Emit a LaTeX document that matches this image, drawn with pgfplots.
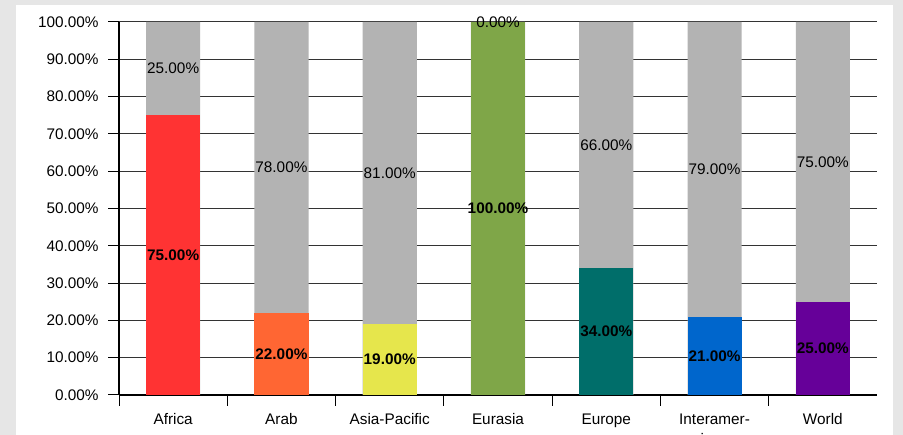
\documentclass[border=0pt]{standalone}
\usepackage{fontspec}
\setmainfont{Liberation Sans}
\usepackage{pgfplots}
\pgfplotsset{compat=1.18}
\definecolor{bgc}{RGB}{230,230,230}
\definecolor{gry}{RGB}{179,179,179}
\definecolor{c1}{RGB}{255,51,51}
\definecolor{c2}{RGB}{255,102,51}
\definecolor{c3}{RGB}{230,230,76}
\definecolor{c4}{RGB}{127,166,72}
\definecolor{c5}{RGB}{0,110,106}
\definecolor{c6}{RGB}{0,102,204}
\definecolor{c7}{RGB}{102,0,153}
\pgfplotsset{mybar/.style={ybar, bar width=0.5, bar shift=0pt, draw=none, fill=#1}}
\begin{document}
\begin{tikzpicture}[font=\fontsize{11.5}{13}\selectfont]
\useasboundingbox (0,0) rectangle (677.25pt,326.25pt);
\clip (0,0) rectangle (677.25pt,326.25pt);
\fill[bgc] (0,0) rectangle (677.25pt,326.25pt);
\fill[white] (12pt,-10pt) rectangle (669.75pt,322.5pt);
\begin{axis}[
  at={(89.25pt,30pt)}, anchor=south west, scale only axis,
  width=568.5pt, height=279.75pt,
  xmin=-0.5, xmax=6.5, ymin=0, ymax=100,
  axis x line*=bottom, axis y line*=left,
  axis line style={black, line width=1pt},
  clip=false,
  xtick={0,...,6},
  xticklabels={Africa,Arab,Asia-Pacific,Eurasia,Europe,Interamer-\\ican,World},
  xticklabel style={align=center, yshift=-2.25pt, font=\fontsize{11.5}{15}\selectfont},
  yticklabel style={xshift=-3.5pt},
  major x tick style={draw=none},
  minor xtick={-0.5,0.5,...,5.5},
  minor x tick style={black, line width=0.75pt},
  tick align=outside,
  major tick length=8.25pt, minor tick length=8.25pt,
  ytick={0,10,...,100},
  yticklabels={0.00\%,10.00\%,20.00\%,30.00\%,40.00\%,50.00\%,60.00\%,70.00\%,80.00\%,90.00\%,100.00\%},
  major y tick style={black, line width=0.75pt},
  ymajorgrids, grid style={black!80, line width=0.75pt},
]
\addplot[mybar=gry] coordinates {(0,100) (1,100) (2,100) (3,100) (4,100) (5,100) (6,100)};
\addplot[mybar=c1] coordinates {(0,75)};
\addplot[mybar=c2] coordinates {(1,22)};
\addplot[mybar=c3] coordinates {(2,19)};
\addplot[mybar=c4] coordinates {(3,100)};
\addplot[mybar=c5] coordinates {(4,34)};
\addplot[mybar=c6] coordinates {(5,21)};
\addplot[mybar=c7] coordinates {(6,25)};
\addplot[draw=none, mark=none, nodes near coords, point meta=explicit symbolic,
  every node near coord/.append style={anchor=center, font=\fontsize{11.5}{13}\selectfont\bfseries, inner sep=0pt}]
  coordinates {(0,37.5) [75.00\%] (1,11) [22.00\%] (2,9.5) [19.00\%] (3,50) [100.00\%]
  (4,17) [34.00\%] (5,10.5) [21.00\%] (6,12.5) [25.00\%]};
\addplot[draw=none, mark=none, nodes near coords, point meta=explicit symbolic,
  every node near coord/.append style={anchor=center, font=\fontsize{11.5}{13}\selectfont, inner sep=0pt}]
  coordinates {(0,87.5) [25.00\%] (1,61) [78.00\%] (2,59.5) [81.00\%] (3,100) [0.00\%]
  (4,67) [66.00\%] (5,60.5) [79.00\%] (6,62.5) [75.00\%]};
\end{axis}
\end{tikzpicture}
\end{document}
